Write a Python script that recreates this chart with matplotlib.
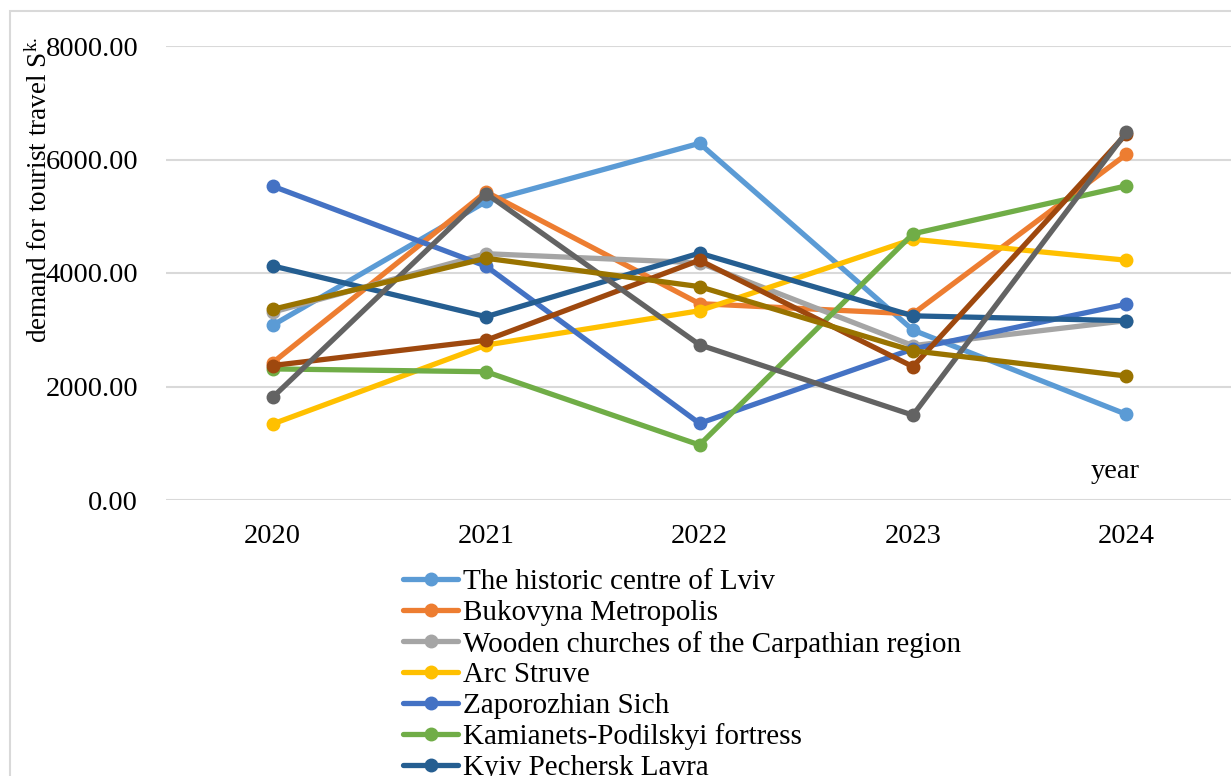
import matplotlib
matplotlib.use("Agg")
import matplotlib.pyplot as plt
from matplotlib.patches import Rectangle

plt.rcParams['font.family'] = ['Liberation Serif', 'DejaVu Serif']
plt.rcParams['mathtext.fontset'] = 'custom'
plt.rcParams['mathtext.rm'] = 'Liberation Serif'
plt.rcParams['mathtext.it'] = 'Liberation Serif:italic'

years = ['2020', '2021', '2022', '2023', '2024']
names = ['The historic centre of Lviv',
         'Bukovyna Metropolis',
         'Wooden churches of the Carpathian region',
         'Arc Struve',
         'Zaporozhian Sich',
         'Kamianets-Podilskyi fortress',
         'Kyiv Pechersk Lavra',
         'Saint Sophia Cathedral',
         'Tauric Chersonese',
         'Historic centre of Odesa']

lviv      = [3080, 5260, 6285, 2995, 1510]
bukovyna  = [2420, 5430, 3460, 3280, 6090]
wooden    = [3310, 4340, 4180, 2720, 3160]
struve    = [1340, 2730, 3335, 4595, 4225]
zaporozh  = [5530, 4120, 1350, 2660, 3450]
kamianets = [2310, 2260, 970, 4690, 5535]
lavra     = [4125, 3230, 4350, 3245, 3160]
sophia    = [2370, 2815, 4225, 2350, 6450]
chersones = [1810, 5400, 2735, 1495, 6480]
odesa     = [3360, 4260, 3760, 2630, 2185]

series = [lviv, bukovyna, wooden, struve, zaporozh, kamianets, lavra, sophia, chersones, odesa]
colors = ['#5B9BD5', '#ED7D31', '#A5A5A5', '#FFC000', '#4472C4',
          '#70AD47', '#255E91', '#9E480E', '#636363', '#997300']

fs = 20.5

fig = plt.figure(figsize=(12.31, 7.76), dpi=100)
# chart border (partly outside the picture)
fig.patches.append(Rectangle((10/1231, -0.1), 1.2, 1 - 11/776 + 0.1, transform=fig.transFigure,
                             fill=False, edgecolor='#D9D9D9', linewidth=1.5))

ax = fig.add_axes([166/1231, 1 - 500/776, 1067/1231, 454/776])
x = range(len(years))
for vals, name, c in zip(series, names, colors):
    ax.plot(x, vals, color=c, linewidth=3.8, marker='o', markersize=9,
            label=name, solid_capstyle='round')

ax.set_xlim(-0.5, 4.5)
ax.set_ylim(0, 8000)
ax.set_yticks([0, 2000, 4000, 6000, 8000])
ax.set_yticklabels(['%.2f' % v for v in [0, 2000, 4000, 6000, 8000]])
ax.set_xticks(list(x))
ax.set_xticklabels(years)
ax.tick_params(axis='both', length=0, labelsize=fs)
ax.tick_params(axis='y', pad=20)
ax.tick_params(axis='x', pad=17)
ax.grid(axis='y', color='#D9D9D9', linewidth=1.5)
ax.set_axisbelow(True)
for s in ax.spines.values():
    s.set_visible(False)

fig.text(40/1231, 1 - 190/776, 'demand for tourist travel S$^{\\mathrm{k.}}$',
         rotation=90, ha='center', va='center', fontsize=19.5)
fig.text(1115/1231, 1 - 472/776, 'year', ha='center', va='center', fontsize=fs)

fig.legend(loc='upper left', bbox_to_anchor=(403/1231, 1 - 569/776),
           frameon=False, fontsize=21, handlelength=1.9, handletextpad=0.16,
           labelspacing=0.15, borderpad=0, borderaxespad=0)

fig.savefig('out.png', dpi=100)
